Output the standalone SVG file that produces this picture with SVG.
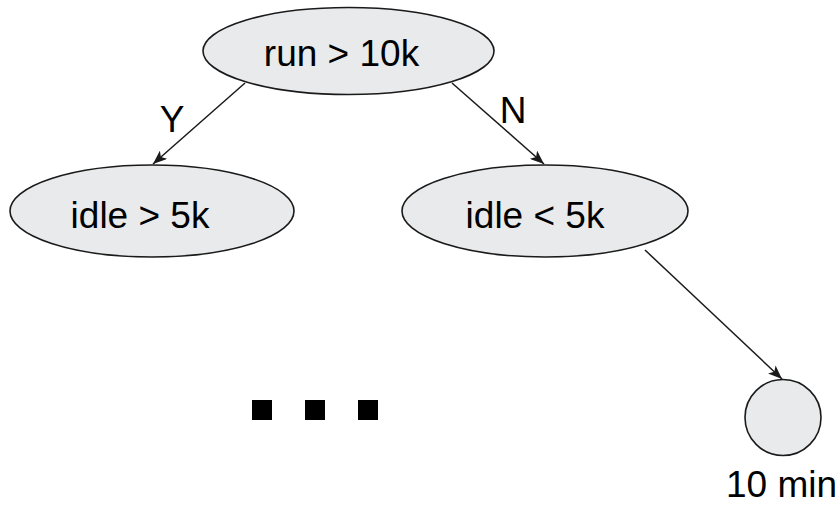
<svg xmlns="http://www.w3.org/2000/svg" width="839" height="508" viewBox="0 0 839 508">
<style>
.node{fill:#e8eaeb;stroke:#1a1a1a;stroke-width:1.6}
.lbl{font-family:"Liberation Sans",Arial,sans-serif;font-size:37px;fill:#000}
.edge{stroke:#1a1a1a;stroke-width:1.5;fill:none;marker-end:url(#arr)}
</style>
<defs>
<marker id="arr" viewBox="0 0 14 11" refX="14" refY="5.5" markerWidth="14" markerHeight="11" markerUnits="userSpaceOnUse" orient="auto">
<path d="M0,0 L14,5.5 L0,11 L3.5,5.5 z" fill="#1a1a1a"/>
</marker>
</defs>
<rect width="839" height="508" fill="#fff"/>
<g id="edges">
<line class="edge" x1="245" y1="83" x2="153" y2="164"/>
<line class="edge" x1="452" y1="83" x2="544" y2="164"/>
<line class="edge" x1="645" y1="250" x2="782" y2="379"/>
<text class="lbl" x="172" y="132" text-anchor="middle">Y</text>
<text class="lbl" x="513" y="123" text-anchor="middle">N</text>
</g>
<g id="n-run">
<ellipse class="node" cx="348.5" cy="51" rx="145.5" ry="43.5"/>
<text class="lbl" x="341.5" y="66" text-anchor="middle">run &gt; 10k</text>
</g>
<g id="n-idle-gt">
<ellipse class="node" cx="152" cy="211" rx="142" ry="46"/>
<text class="lbl" x="140" y="228" text-anchor="middle">idle &gt; 5k</text>
</g>
<g id="n-idle-lt">
<ellipse class="node" cx="545" cy="211" rx="143" ry="46"/>
<text class="lbl" x="535" y="228" text-anchor="middle">idle &lt; 5k</text>
</g>
<g id="n-leaf">
<circle class="node" cx="783" cy="417.5" r="38"/>
<text class="lbl" x="726" y="497">10 min</text>
</g>
<g id="ellipsis">
<rect x="252" y="400" width="20" height="20" fill="#000"/>
<rect x="305" y="400" width="20" height="20" fill="#000"/>
<rect x="358" y="400" width="20" height="20" fill="#000"/>
</g>
</svg>
